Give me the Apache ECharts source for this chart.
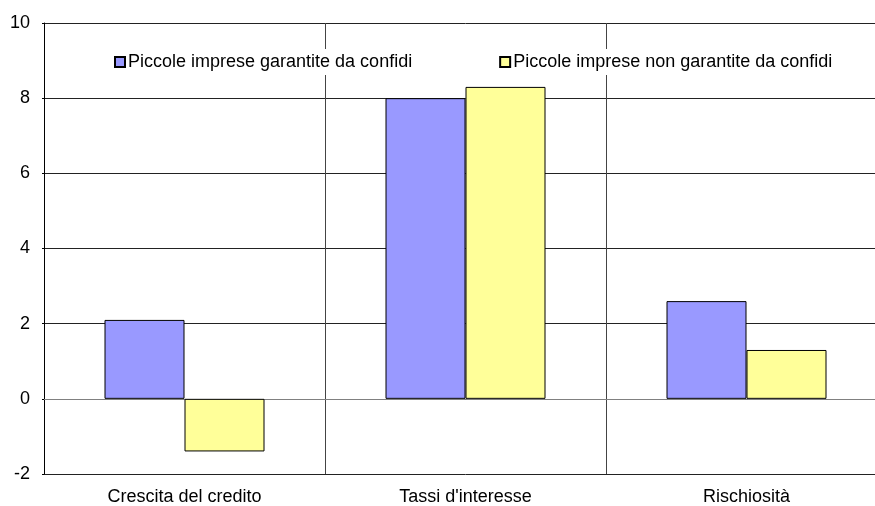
<!DOCTYPE html>
<html>
<head>
<meta charset="utf-8">
<script src="https://cdn.jsdelivr.net/npm/echarts@6/dist/echarts.min.js"></script>
<style>html,body{margin:0;padding:0;background:#fff;overflow:hidden;width:875px;height:506px}#c{width:887px;height:506px}</style>
</head>
<body>
<div id="c"></div>
<script>
const categories = ["Crescita del credito", "Tassi d'interesse", "Rischiosità"];
const seriesNames = ["Piccole imprese garantite da confidi", "Piccole imprese non garantite da confidi"];
const garantite = [2.1, 8.0, 2.6];
const nonGarantite = [-1.4, 8.3, 1.3];

const chart = echarts.init(document.getElementById('c'), null, {renderer: 'canvas'});
const font = '"Liberation Sans", Arial, sans-serif';
chart.setOption({
  animation: false,
  backgroundColor: '#fff',
  textStyle: {fontFamily: font},
  grid: {left: 44, top: 23, right: 0, bottom: 32},
  legend: {
    left: 110, top: 49,
    backgroundColor: '#fff',
    padding: [4, 6, 4, 4],
    itemWidth: 10, itemHeight: 10, itemGap: 87,
    icon: 'rect',
    textStyle: {fontFamily: font, fontSize: 18, color: '#000', padding: [0, 0, 0, -2]},
    data: seriesNames
  },
  xAxis: {
    type: 'category',
    data: categories,
    axisLine: {lineStyle: {color: '#808080', width: 1}},
    axisTick: {show: false},
    axisLabel: {color: '#000', fontSize: 18, fontFamily: font, margin: 14},
    splitLine: {show: true, interval: 0, lineStyle: {color: '#444', width: 1}}
  },
  yAxis: {
    type: 'value',
    min: -2, max: 10, interval: 2,
    axisLine: {show: true, lineStyle: {color: '#000', width: 1}},
    axisTick: {show: true, length: 2, lineStyle: {color: '#000'}},
    axisLabel: {color: '#000', fontSize: 18, fontFamily: font, margin: 14},
    splitLine: {lineStyle: {color: '#222', width: 1}}
  },
  series: [
    {name: seriesNames[0], type: 'bar', data: garantite, barWidth: 80, barGap: '0%',
     itemStyle: {color: '#9999FF', borderColor: '#000', borderWidth: 1}},
    {name: seriesNames[1], type: 'bar', data: nonGarantite, barWidth: 80, barGap: '0%',
     itemStyle: {color: '#FFFF99', borderColor: '#000', borderWidth: 1}}
  ]
});
</script>
</body>
</html>
